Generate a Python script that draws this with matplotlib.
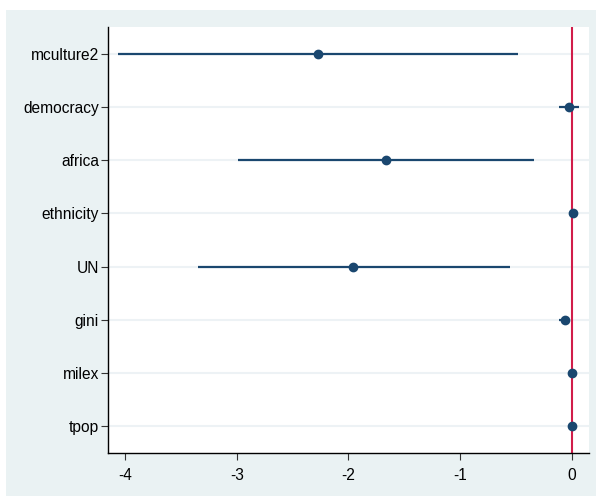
import numpy as np
import matplotlib.pyplot as plt
from matplotlib.patches import Rectangle

plt.rcParams['font.family'] = ['Liberation Sans', 'DejaVu Sans']

# coefficient plot data
names = ['mculture2', 'democracy', 'africa', 'ethnicity', 'UN', 'gini', 'milex', 'tpop']
coef = [-2.27, -0.03, -1.665, 0.005, -1.96, -0.065, 0.0, 0.0]
ci_lo = [-4.065, -0.12, -2.99, 0.0, -3.35, -0.115, 0.0, 0.0]
ci_hi = [-0.485, 0.065, -0.34, 0.01, -0.555, -0.035, 0.0, 0.0]
xticks = [-4, -3, -2, -1, 0]

navy = '#1a476f'
bg = '#eaf2f3'

fig = plt.figure(figsize=(5.96, 4.96), dpi=100, facecolor='white')
# stata-like outer background, kept behind the axes
fig.patches.append(Rectangle((6/596, 0), 1, 486/496, transform=fig.transFigure,
                             facecolor=bg, edgecolor='none', zorder=-10))

ax = fig.add_axes([108/596, 43/496, 481/596, 426/496])
ax.set_facecolor('white')

y = np.arange(len(names), 0, -1)

for yy in y:
    ax.axhline(yy, color='#edf2f5', lw=1.5, zorder=1)

ax.hlines(y, ci_lo, ci_hi, color=navy, lw=1.6, zorder=3)
ax.axvline(0, color='#d11d4a', lw=1.5, zorder=2)
ax.plot(coef, y, 'o', color=navy, ms=6, zorder=4)

ax.set_xlim(-4.152, 0.152)
ax.set_ylim(0.5, 8.5)
ax.set_yticks(y)
ax.set_yticklabels(names, fontsize=11.2)
ax.set_xticks(xticks)
ax.set_xticklabels([str(t) for t in xticks], fontsize=11.2)
ax.tick_params(axis='both', direction='out', length=5, width=0.8, color='#333333')
ax.tick_params(axis='x', pad=6)
ax.tick_params(axis='y', pad=1.5)

for s in ['top', 'right']:
    ax.spines[s].set_visible(False)
for s in ['left', 'bottom']:
    ax.spines[s].set_color('black')
    ax.spines[s].set_linewidth(1.0)

fig.savefig('out.png', dpi=100, facecolor='white')
